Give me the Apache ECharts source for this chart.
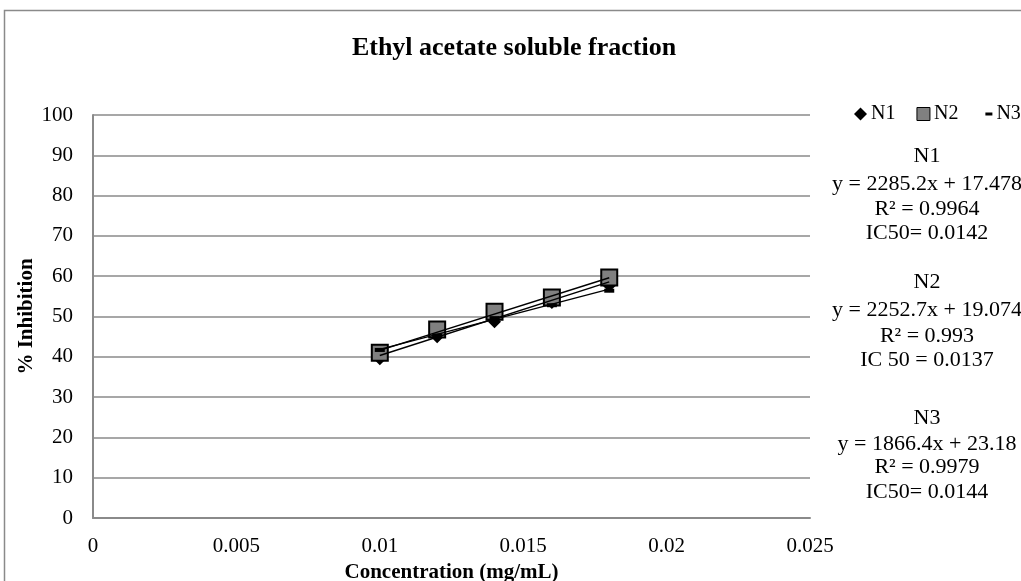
<!DOCTYPE html>
<html>
<head>
<meta charset="utf-8">
<script src="https://cdn.jsdelivr.net/npm/echarts@6/dist/echarts.min.js"></script>
<style>
  html, body { margin: 0; padding: 0; background: #fff; }
  #chart { width: 1021px; height: 581px; }
</style>
</head>
<body>
<div id="chart"></div>
<script>
// Concentrations tested (mg/mL)
const concentrations = [0.010, 0.012, 0.014, 0.016, 0.018];
// % inhibition for each replicate
const n1Values = [39.5, 45.0, 48.7, 53.5, 57.6];
const n2Values = [41.0, 46.8, 51.2, 54.7, 59.7];
const n3Values = [41.7, 45.3, 49.6, 52.8, 56.4];
// Linear fit coefficients (slope, intercept) for each replicate
const trendSlopes = [2285.2, 2252.7, 1866.4];
const trendIntercepts = [17.478, 19.074, 23.18];
// Fit summary text
const seriesNames = ['N1', 'N2', 'N3'];
const equations = ['y = 2285.2x + 17.478', 'y = 2252.7x + 19.074', 'y = 1866.4x + 23.18'];
const rSquared = ['R² = 0.9964', 'R² = 0.993', 'R² = 0.9979'];
const ic50Labels = ['IC50= 0.0142', 'IC 50 = 0.0137', 'IC50= 0.0144'];

const FONT = '"Liberation Serif", "Times New Roman", serif';

function pairs(xs, ys) { return xs.map((x, i) => [x, ys[i]]); }
function trend(k) {
  const x0 = concentrations[0], x1 = concentrations[concentrations.length - 1];
  return [[x0, trendSlopes[k] * x0 + trendIntercepts[k]], [x1, trendSlopes[k] * x1 + trendIntercepts[k]]];
}

const chart = echarts.init(document.getElementById('chart'), null, { renderer: 'canvas' });

const trendSeries = [0, 1, 2].map(k => ({
  name: seriesNames[k] + ' fit',
  type: 'line',
  data: trend(k),
  showSymbol: false,
  symbol: 'none',
  silent: true,
  z: 5,
  lineStyle: { color: '#000', width: 1.4 }
}));

// Vertical centres of the four lines in each fit summary block
const blockLineY = [
  [156, 184.5, 209, 233],
  [282.5, 310.5, 336, 360],
  [418, 444, 467.5, 492]
];
const summaryText = [];
[0, 1, 2].forEach(k => {
  const lines = [seriesNames[k], equations[k], rSquared[k], ic50Labels[k]];
  lines.forEach((t, j) => {
    summaryText.push({
      type: 'text',
      x: 927,
      y: blockLineY[k][j],
      silent: true,
      style: {
        text: t,
        fill: '#000',
        font: '22px ' + FONT,
        align: 'center',
        verticalAlign: 'middle'
      }
    });
  });
});

chart.setOption({
  backgroundColor: '#fff',
  animation: false,
  title: {
    text: 'Ethyl acetate soluble fraction',
    left: 509,
    textAlign: 'center',
    top: 30,
    textStyle: { fontFamily: FONT, fontSize: 26, fontWeight: 'bold', color: '#000' }
  },
  legend: {
    left: 854,
    top: 104,
    width: 400,
    padding: 0,
    itemWidth: 13,
    itemHeight: 13,
    itemGap: 21,
    textStyle: { fontFamily: FONT, fontSize: 20, color: '#000', padding: [0, 0, 0, -1] },
    data: [
      { name: 'N1', icon: 'diamond', itemStyle: { color: '#000' } },
      { name: 'N2', icon: 'rect', itemStyle: { color: '#808080', borderColor: '#000', borderWidth: 1 } },
      { name: 'N3', icon: 'path://M0,0L0.01,0M0,13L0.01,13M6,5h7v3h-7z', itemStyle: { color: '#000' } }
    ]
  },
  grid: { left: 93, right: 211, top: 115, bottom: 63, containLabel: false, outerBoundsMode: 'none' },
  xAxis: {
    type: 'value',
    min: 0,
    max: 0.025,
    interval: 0.005,
    name: 'Concentration (mg/mL)',
    nameLocation: 'middle',
    nameGap: 44,
    nameMoveOverlap: false,
    nameTextStyle: { fontFamily: FONT, fontSize: 21, fontWeight: 'bold', color: '#000' },
    axisLine: { show: true, lineStyle: { color: '#8a8a8a', width: 2 } },
    axisTick: { show: false },
    splitLine: { show: false },
    axisLabel: { fontFamily: FONT, fontSize: 21, color: '#000', margin: 18 }
  },
  yAxis: {
    type: 'value',
    min: 0,
    max: 100,
    interval: 10,
    name: '% Inhibition',
    nameLocation: 'middle',
    nameGap: 56,
    nameMoveOverlap: false,
    nameTextStyle: { fontFamily: FONT, fontSize: 21, fontWeight: 'bold', color: '#000' },
    axisLine: { show: true, lineStyle: { color: '#8a8a8a', width: 2 } },
    axisTick: { show: false },
    splitLine: { show: true, lineStyle: { color: '#8a8a8a', width: 1.5 } },
    axisLabel: { fontFamily: FONT, fontSize: 21, color: '#000', margin: 20 }
  },
  graphic: [
    {
      type: 'rect',
      shape: { x: 4.5, y: 10.5, width: 1100, height: 700 },
      style: { fill: 'none', stroke: '#8a8a8a', lineWidth: 1.5 },
      silent: true,
      z: -10
    }
  ].concat(summaryText),
  series: [
    {
      name: 'N1', type: 'scatter', data: pairs(concentrations, n1Values),
      symbol: 'diamond', symbolSize: 13, z: 3,
      itemStyle: { color: '#000', opacity: 1 }
    },
    {
      name: 'N2', type: 'scatter', data: pairs(concentrations, n2Values),
      symbol: 'rect', symbolSize: 16, z: 4,
      itemStyle: { color: '#808080', borderColor: '#000', borderWidth: 2, opacity: 1 }
    },
    {
      name: 'N3', type: 'scatter', data: pairs(concentrations, n3Values),
      symbol: 'rect', symbolSize: [10, 4], z: 4,
      itemStyle: { color: '#000', opacity: 1 }
    }
  ].concat(trendSeries)
});
</script>
</body>
</html>
